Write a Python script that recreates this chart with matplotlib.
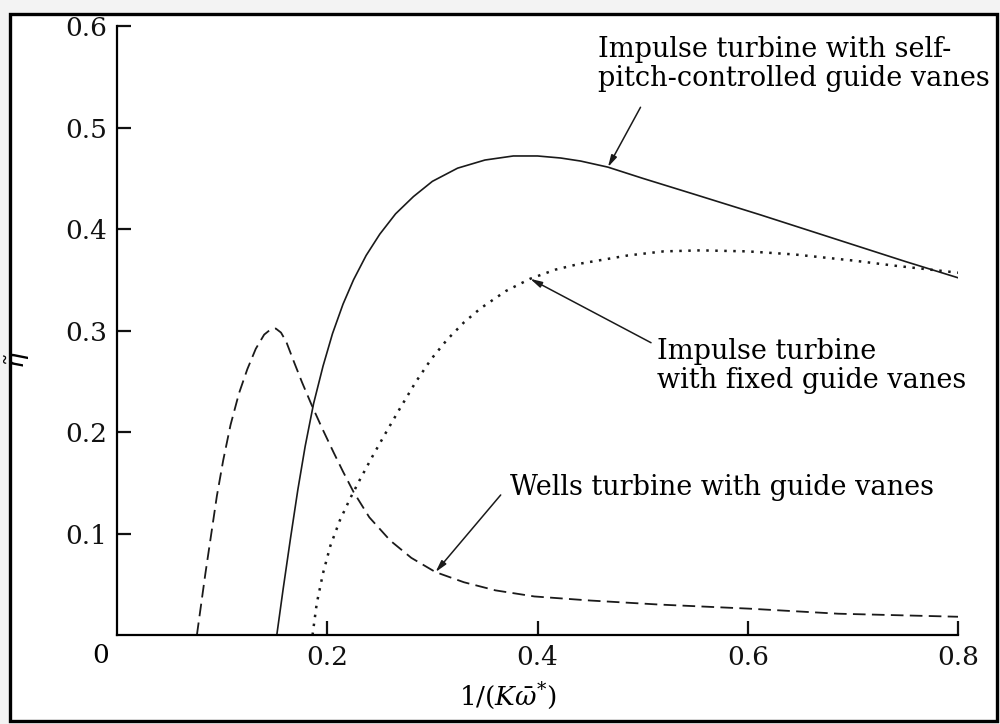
import matplotlib
matplotlib.use('Agg')
import matplotlib.pyplot as plt
from matplotlib.patches import Rectangle

plt.rcParams['font.family'] = 'DejaVu Serif'
plt.rcParams['mathtext.fontset'] = 'dejavuserif'

# efficiency curves, eta vs 1/(K w*)
self_pitch_x = [0.152, 0.158, 0.165, 0.172, 0.179, 0.187, 0.196, 0.205, 0.215, 0.225,
                0.237, 0.250, 0.265, 0.282, 0.300, 0.324, 0.350, 0.377, 0.400, 0.422,
                0.441, 0.467, 0.500, 0.550, 0.612, 0.660, 0.708, 0.750, 0.800]
self_pitch_y = [0.000, 0.045, 0.095, 0.143, 0.186, 0.228, 0.265, 0.297, 0.326, 0.350,
                0.374, 0.395, 0.415, 0.432, 0.447, 0.460, 0.468, 0.472, 0.472, 0.470,
                0.467, 0.461, 0.450, 0.434, 0.414, 0.398, 0.382, 0.368, 0.352]

fixed_x = [0.186, 0.190, 0.196, 0.203, 0.212, 0.222, 0.231, 0.243, 0.255, 0.269,
           0.284, 0.299, 0.314, 0.330, 0.346, 0.370, 0.393, 0.417, 0.441, 0.486,
           0.520, 0.555, 0.600, 0.644, 0.700, 0.739, 0.800]
fixed_y = [0.000, 0.031, 0.061, 0.088, 0.113, 0.135, 0.153, 0.176, 0.198, 0.223,
           0.249, 0.272, 0.291, 0.308, 0.322, 0.339, 0.351, 0.360, 0.366, 0.374,
           0.378, 0.379, 0.378, 0.375, 0.369, 0.364, 0.357]

wells_x = [0.076, 0.080, 0.084, 0.089, 0.095, 0.101, 0.108, 0.116, 0.124, 0.132,
           0.140, 0.146, 0.151, 0.156, 0.161, 0.168, 0.176, 0.185, 0.195, 0.206,
           0.215, 0.225, 0.240, 0.260, 0.280, 0.303, 0.330, 0.360, 0.397, 0.450,
           0.516, 0.601, 0.686, 0.800]
wells_y = [0.000, 0.030, 0.060, 0.095, 0.137, 0.172, 0.207, 0.238, 0.262, 0.282,
           0.296, 0.301, 0.302, 0.298, 0.289, 0.270, 0.249, 0.227, 0.204, 0.180,
           0.161, 0.141, 0.116, 0.093, 0.076, 0.062, 0.052, 0.044, 0.038, 0.034,
           0.030, 0.026, 0.021, 0.018]

x_ticks = [0.2, 0.4, 0.6, 0.8]
y_ticks = [0.1, 0.2, 0.3, 0.4, 0.5, 0.6]

fig = plt.figure(figsize=(10, 7.24), dpi=100, facecolor='#f3f3f3')
# white page with a heavy black border behind the axes
frame = Rectangle((0.010, 0.004), 0.987, 0.977, transform=fig.transFigure,
                  facecolor='white', edgecolor='black', lw=2.4, zorder=-10)
fig.add_artist(frame)

ax = fig.add_axes([0.117, 0.1229, 0.841, 0.8411])
ax.set_facecolor('none')

ax.plot(self_pitch_x, self_pitch_y, color='#1a1a1a', lw=1.2)
ax.plot(fixed_x, fixed_y, color='#1a1a1a', lw=1.8, linestyle=(0, (1, 2.6)))
ax.plot(wells_x, wells_y, color='#1a1a1a', lw=1.3, linestyle=(0, (7, 3.5)))

ax.set_xlim(0, 0.8)
ax.set_ylim(0, 0.6)
ax.set_xticks(x_ticks)
ax.set_yticks(y_ticks)
ax.set_xticklabels(['0.2', '0.4', '0.6', '0.8'])
ax.set_yticklabels(['0.1', '0.2', '0.3', '0.4', '0.5', '0.6'])
ax.tick_params(direction='in', length=10, width=1.6, labelsize=19, pad=7, colors='#111111')
for s in ['top', 'right']:
    ax.spines[s].set_visible(False)
for s in ['left', 'bottom']:
    ax.spines[s].set_linewidth(1.6)

ax.text(-0.016, -0.02, '0', fontsize=19, ha='center', va='center', clip_on=False)

ax.set_xlabel(r'$1/(K\bar{\omega}^{*})$', fontsize=19)
ax.xaxis.set_label_coords(0.465, -0.074)
ax.set_ylabel(r'$\tilde{\eta}$', fontsize=19)
ax.yaxis.set_label_coords(-0.101, 0.452)

arrow = dict(arrowstyle='-|>,head_length=0.7,head_width=0.18', color='#1a1a1a',
             lw=1.1, mutation_scale=10, shrinkA=0, shrinkB=0)

ax.annotate('', xy=(0.467, 0.461), xytext=(0.498, 0.520), arrowprops=arrow)
ax.text(0.458, 0.563, 'Impulse turbine with self-\npitch-controlled guide vanes',
        fontsize=19.5, ha='left', va='center', linespacing=1.1)

ax.annotate('', xy=(0.393, 0.351), xytext=(0.508, 0.288), arrowprops=arrow)
ax.text(0.514, 0.265, 'Impulse turbine\nwith fixed guide vanes',
        fontsize=19.5, ha='left', va='center', linespacing=1.1)

ax.annotate('', xy=(0.303, 0.062), xytext=(0.365, 0.138), arrowprops=arrow)
ax.text(0.374, 0.145, 'Wells turbine with guide vanes',
        fontsize=19.5, ha='left', va='center')

plt.savefig('out.png', dpi=100, facecolor=fig.get_facecolor())
